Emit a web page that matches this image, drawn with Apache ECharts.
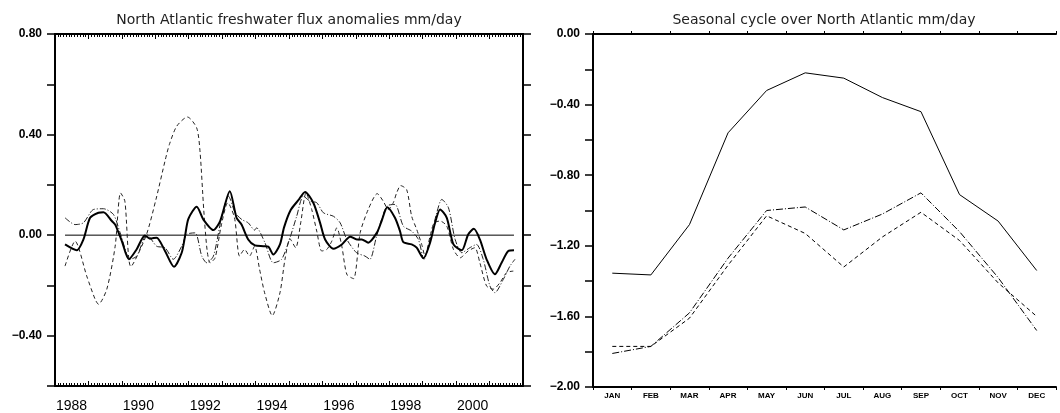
<!DOCTYPE html>
<html>
<head>
<meta charset="utf-8">
<style>
    html, body { margin: 0; padding: 0; background: #fff; }
    #chart { width: 1060px; height: 413px; }
</style>
<script src="https://cdn.jsdelivr.net/npm/echarts@6/dist/echarts.min.js"></script>
</head>
<body>
<div id="chart"></div>
<script>
// left panel, anomalies (time in decimal years, mm/day)
const solidT = [1988.30, 1988.65, 1988.85, 1989.05, 1989.30, 1989.45, 1989.70, 1989.80, 1990.00, 1990.21,
    1990.44, 1990.69, 1990.84, 1991.04, 1991.29, 1991.56, 1991.79, 1991.89, 1991.99, 1992.24,
    1992.44, 1992.74, 1992.94, 1993.23, 1993.43, 1993.58, 1993.78, 1993.98, 1994.23, 1994.38,
    1994.53, 1994.73, 1994.85, 1995.05, 1995.28, 1995.48, 1995.73, 1995.93, 1996.08, 1996.33,
    1996.58, 1996.83, 1997.03, 1997.18, 1997.37, 1997.63, 1997.77, 1997.94, 1998.17, 1998.32,
    1998.42, 1998.67, 1998.82, 1999.02, 1999.22, 1999.37, 1999.52, 1999.72, 1999.92, 2000.17,
    2000.36, 2000.53, 2000.71, 2000.91, 2001.16, 2001.36, 2001.56, 2001.73];
const solidV = [-0.037, -0.060, -0.017, 0.069, 0.089, 0.091, 0.056, 0.042, -0.024, -0.096,
    -0.057, -0.001, -0.014, -0.010, -0.063, -0.126, -0.070, -0.004, 0.065, 0.113,
    0.062, 0.020, 0.056, 0.175, 0.069, 0.042, -0.017, -0.041, -0.044, -0.046,
    -0.077, -0.037, 0.030, 0.100, 0.139, 0.172, 0.128, 0.049, -0.017, -0.054,
    -0.037, -0.006, -0.017, -0.017, -0.030, 0.010, 0.056, 0.111, 0.069, 0.016,
    -0.028, -0.037, -0.050, -0.092, -0.030, 0.049, 0.102, 0.069, -0.037, -0.060,
    0.003, 0.025, -0.017, -0.096, -0.156, -0.110, -0.063, -0.060];

const dashT = [1988.30, 1988.60, 1988.95, 1989.20, 1989.30, 1989.55, 1989.80, 1989.96, 1990.09, 1990.27,
    1990.72, 1991.02, 1991.30, 1991.42, 1991.64, 1991.96, 1992.24, 1992.34, 1992.45, 1992.55,
    1992.64, 1992.79, 1992.97, 1993.17, 1993.37, 1993.52, 1993.67, 1993.82, 1993.97, 1994.12,
    1994.27, 1994.50, 1994.73, 1994.88, 1995.03, 1995.20, 1995.35, 1995.51, 1995.68, 1995.83,
    1995.98, 1996.13, 1996.28, 1996.43, 1996.58, 1996.73, 1996.93, 1997.13, 1997.37, 1997.64,
    1997.82, 1997.97, 1998.12, 1998.22, 1998.34, 1998.52, 1998.67, 1998.82, 1998.97, 1999.07,
    1999.22, 1999.34, 1999.52, 1999.72, 1999.92, 2000.12, 2000.36, 2000.56, 2000.71, 2000.91,
    2001.11, 2001.31, 2001.51, 2001.71];
const dashV = [-0.123, -0.024, -0.163, -0.255, -0.275, -0.215, -0.044, 0.168, 0.135, -0.125,
    -0.004, 0.142, 0.300, 0.360, 0.433, 0.470, 0.426, 0.330, 0.100, -0.060,
    -0.110, -0.090, 0.036, 0.129, 0.069, -0.083, -0.057, -0.083, -0.044, -0.136,
    -0.229, -0.320, -0.229, -0.096, -0.015, -0.050, 0.049, 0.168, 0.102, 0.016,
    -0.063, -0.057, -0.024, 0.029, -0.044, -0.156, -0.173, 0.010, 0.102, 0.165,
    0.135, 0.102, 0.129, 0.168, 0.197, 0.181, 0.075, 0.023, -0.037, -0.083,
    -0.004, 0.049, 0.056, 0.036, -0.057, -0.090, -0.063, -0.050, -0.110, -0.202,
    -0.215, -0.189, -0.149, -0.143];

const dotT = [1988.30, 1988.60, 1988.85, 1989.15, 1989.45, 1989.75, 1989.95, 1990.25, 1990.45, 1990.75,
    1991.04, 1991.29, 1991.54, 1991.79, 1991.94, 1992.19, 1992.39, 1992.54, 1992.74, 1992.99,
    1993.19, 1993.39, 1993.59, 1993.78, 1993.97, 1994.03, 1994.28, 1994.53, 1994.78, 1995.03,
    1995.23, 1995.43, 1995.63, 1995.83, 1996.03, 1996.33, 1996.53, 1996.73, 1997.02, 1997.27,
    1997.42, 1997.62, 1997.92, 1998.17, 1998.42, 1998.67, 1998.87, 1999.04, 1999.27, 1999.42,
    1999.57, 1999.77, 1999.97, 2000.17, 2000.41, 2000.61, 2000.81, 2001.01, 2001.16, 2001.41,
    2001.61, 2001.76];
const dotV = [0.069, 0.042, 0.049, 0.102, 0.105, 0.082, 0.009, -0.096, -0.083, 0.003,
    -0.044, -0.050, -0.096, -0.044, 0.003, 0.009, -0.083, -0.110, -0.083, 0.075,
    0.155, 0.089, 0.062, 0.049, 0.020, 0.029, -0.030, -0.110, -0.096, -0.010,
    0.075, 0.155, 0.135, 0.129, 0.089, 0.075, 0.049, -0.017, -0.070, -0.083,
    -0.096, -0.004, 0.115, 0.122, 0.036, 0.016, -0.017, -0.096, 0.009, 0.089,
    0.142, 0.109, -0.017, -0.070, -0.050, -0.037, -0.096, -0.202, -0.229, -0.176,
    -0.123, -0.096];

const zeroT = [1988.30, 2001.73];
const zeroV = [0, 0];

const yearLabels = [1988, 1990, 1992, 1994, 1996, 1998, 2000];

// right panel, seasonal cycle
const months = ['JAN', 'FEB', 'MAR', 'APR', 'MAY', 'JUN', 'JUL', 'AUG', 'SEP', 'OCT', 'NOV', 'DEC'];
const seasonSolid = [-1.355, -1.365, -1.08, -0.56, -0.32, -0.22, -0.25, -0.36, -0.44, -0.91, -1.06, -1.34];
const seasonDash = [-1.77, -1.77, -1.61, -1.31, -1.03, -1.13, -1.32, -1.15, -1.01, -1.17, -1.41, -1.60];
const seasonDashDot = [-1.81, -1.77, -1.58, -1.27, -1.00, -0.98, -1.11, -1.02, -0.90, -1.12, -1.38, -1.68];

(function () {
    let chart = echarts.init(document.querySelector("#chart"));

    const zip = (a, b) => a.map((t, i) => [t, b[i]]);

    // 0.00 style labels with a real minus sign, only every second tick
    function yFmt(v) {
        if (Math.round(v / 0.2) % 2 !== 0) return '';
        if (Math.abs(v) < 1e-9) v = 0;
        return v.toFixed(2).replace('-', '\u2212');
    }

    const black = '#000';
    const yLabel = { color: black, fontSize: 12, fontWeight: 'bold', fontFamily: 'Liberation Sans', margin: 13, formatter: yFmt };
    // frame lines stay on the grid edges, not on zero
    const frameLine = { show: true, onZero: false, lineStyle: { color: black, width: 2 } };

    let option = {
        animation: false,
        backgroundColor: '#fff',
        graphic: [
            {
                type: 'text', x: 289, y: 20,
                style: { text: 'North Atlantic freshwater flux anomalies mm/day', fill: '#222', font: '14px "DejaVu Sans"', align: 'center', verticalAlign: 'middle' }
            },
            {
                type: 'text', x: 824, y: 20,
                style: { text: 'Seasonal cycle over North Atlantic mm/day', fill: '#222', font: '14px "DejaVu Sans"', align: 'center', verticalAlign: 'middle' }
            }
        ],
        grid: [
            { left: 55, top: 34, width: 468, height: 353 },
            { left: 593, top: 34, width: 463, height: 353 }
        ],
        xAxis: [
            {
                gridIndex: 0, type: 'value', min: 1988, max: 2002, interval: 1, position: 'bottom',
                axisLine: frameLine,
                axisTick: { show: true, inside: true, length: 5, lineStyle: { color: black } },
                minorTick: { show: true, splitNumber: 12, length: 3, lineStyle: { color: black } },
                splitLine: { show: false },
                axisLabel: {
                    color: black, fontSize: 14, fontFamily: 'Liberation Sans', margin: 13,
                    // centre the year label on the middle of the year
                    padding: [0, 0, 0, 33],
                    formatter: v => yearLabels.includes(Math.round(v)) ? String(Math.round(v)) : ''
                }
            },
            {
                gridIndex: 0, type: 'value', min: 1988, max: 2002, interval: 1, position: 'top',
                axisLine: frameLine,
                axisTick: { show: true, inside: true, length: 5, lineStyle: { color: black } },
                minorTick: { show: true, splitNumber: 12, length: 3, lineStyle: { color: black } },
                splitLine: { show: false },
                axisLabel: { show: false }
            },
            {
                gridIndex: 1, type: 'category', data: months, position: 'bottom',
                axisLine: frameLine,
                axisTick: { show: true, length: 3, lineStyle: { color: black } },
                axisLabel: { color: black, fontSize: 8, fontWeight: 'bold', fontFamily: 'Liberation Sans', margin: 5 }
            },
            {
                gridIndex: 1, type: 'category', data: months, position: 'top',
                axisLine: frameLine,
                axisTick: { show: true, length: 3, lineStyle: { color: black } },
                axisLabel: { show: false }
            }
        ],
        yAxis: [
            {
                gridIndex: 0, type: 'value', min: -0.6, max: 0.8, interval: 0.2, position: 'left',
                axisLine: frameLine,
                axisTick: { show: true, length: 8, lineStyle: { color: black, width: 1.5 } },
                splitLine: { show: false },
                axisLabel: yLabel
            },
            {
                gridIndex: 0, type: 'value', min: -0.6, max: 0.8, interval: 0.2, position: 'right',
                axisLine: frameLine,
                axisTick: { show: true, length: 8, lineStyle: { color: black, width: 1.5 } },
                splitLine: { show: false },
                axisLabel: { show: false }
            },
            {
                gridIndex: 1, type: 'value', min: -2, max: 0, interval: 0.2, position: 'left',
                axisLine: frameLine,
                axisTick: { show: true, length: 8, lineStyle: { color: black, width: 1.5 } },
                splitLine: { show: false },
                axisLabel: yLabel
            }
        ],
        series: [
            {
                type: 'line', xAxisIndex: 0, yAxisIndex: 0, symbol: 'none',
                data: zip(zeroT, zeroV), lineStyle: { color: black, width: 1 }
            },
            {
                type: 'line', xAxisIndex: 0, yAxisIndex: 0, symbol: 'none', smooth: 0.25,
                data: zip(dashT, dashV), lineStyle: { color: '#222', width: 1, type: [4, 3] }
            },
            {
                type: 'line', xAxisIndex: 0, yAxisIndex: 0, symbol: 'none', smooth: 0.25,
                data: zip(dotT, dotV), lineStyle: { color: '#222', width: 1, type: [6, 2, 1, 2] }
            },
            {
                type: 'line', xAxisIndex: 0, yAxisIndex: 0, symbol: 'none', smooth: 0.25,
                data: zip(solidT, solidV), lineStyle: { color: black, width: 2 }
            },
            {
                type: 'line', xAxisIndex: 2, yAxisIndex: 2, symbol: 'none',
                data: seasonSolid, lineStyle: { color: black, width: 1 }
            },
            {
                type: 'line', xAxisIndex: 2, yAxisIndex: 2, symbol: 'none',
                data: seasonDash, lineStyle: { color: black, width: 1, type: [4, 3] }
            },
            {
                type: 'line', xAxisIndex: 2, yAxisIndex: 2, symbol: 'none',
                data: seasonDashDot, lineStyle: { color: black, width: 1, type: [7, 2, 1, 2] }
            }
        ]
    };

    chart.setOption(option);

    function throttle(fn, delay = 32) {
        let t = null;
        return function () {
            if (t) return;
            t = setTimeout(() => {
                fn();
                t = null;
            }, delay);
        };
    }
    window.addEventListener('resize', throttle(() => chart.resize()));
})();
</script>
</body>
</html>
